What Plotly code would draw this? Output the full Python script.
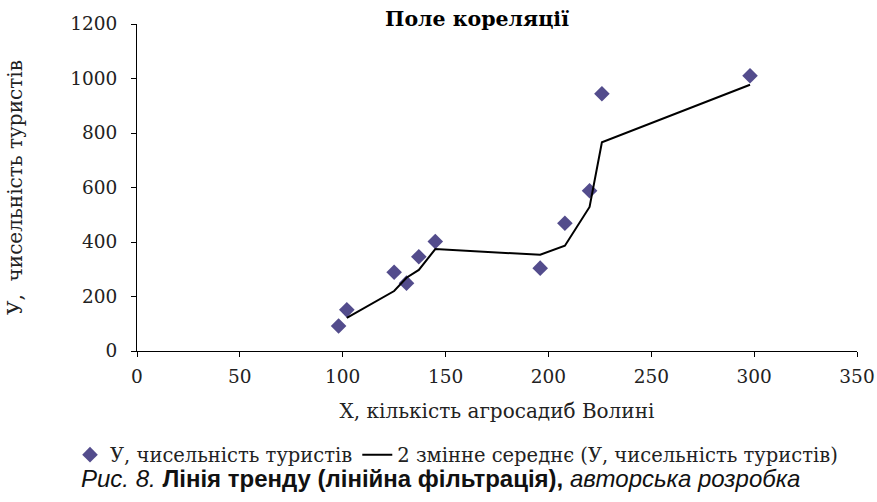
import numpy as np
import pandas as pd
import plotly.graph_objects as go

# Data
x_farms = [98, 102, 125, 131, 137, 145, 196, 208, 220, 226, 298]
y_tourists = [92, 151, 289, 249, 346, 402, 304, 469, 588, 944, 1010]

x_ticks = [0, 50, 100, 150, 200, 250, 300, 350]
y_ticks = [0, 200, 400, 600, 800, 1000, 1200]

title_text = "Поле кореляції"
x_title = "Х, кількість агросадиб Волині"
y_title = "У,  чисельність туристів"
series_name = "У, чисельність туристів"
trend_name = "2 змінне середнє (У, чисельність туристів)"
caption = "<i>Рис. 8.</i> <b>Лінія тренду (лінійна фільтрація),</b> <i>авторська розробка</i>"

# 2-period moving average trend line (as in Excel)
trend = pd.Series(y_tourists).rolling(2).mean()
trend_x = x_farms[1:]
trend_y = trend.iloc[1:].tolist()

W, H = 877, 502
ML, MR, MT, MB = 137, 20, 24, 151
PW, PH = W - ML - MR, H - MT - MB

serif = "DejaVu Serif, Liberation Serif, serif"
sans = "Liberation Sans, Arial, sans-serif"

fig = go.Figure()
fig.add_trace(go.Scatter(
    x=x_farms, y=y_tourists, mode="markers", name=series_name,
    marker=dict(symbol="diamond", size=12, color="#534C8C"),
))
fig.add_trace(go.Scatter(
    x=trend_x, y=trend_y, mode="lines", name=trend_name,
    line=dict(color="black", width=2),
))

axis_common = dict(
    showgrid=False, zeroline=False, showline=True, linecolor="black",
    linewidth=1, ticks="outside", ticklen=5, tickcolor="black",
    tickfont=dict(family=serif, size=18.5, color="#222"),
)

fig.update_layout(
    width=W, height=H,
    margin=dict(l=ML, r=MR, t=MT, b=MB, autoexpand=False),
    paper_bgcolor="white", plot_bgcolor="white",
    title=dict(text=title_text, x=477 / W, xref="container", xanchor="center",
               y=1 - 19 / H, yref="container", yanchor="middle",
               font=dict(family=serif, size=20.5, color="black", weight="bold")),
    xaxis=dict(range=[0, 350], tickvals=x_ticks, ticklabelstandoff=4,
               title=dict(text=x_title, standoff=17,
                          font=dict(family=serif, size=20, color="#222")),
               **axis_common),
    yaxis=dict(range=[0, 1200], tickvals=y_ticks, ticklabelstandoff=10,
               title=dict(text=y_title, standoff=42,
                          font=dict(family=serif, size=20, color="#222")),
               **axis_common),
    showlegend=True,
    legend=dict(orientation="h", x=-(ML - 70) / PW, xanchor="left",
                y=-(455 - MT - PH) / PH, yanchor="middle",
                font=dict(family=serif, size=19.5, color="#222"),
                itemwidth=30, tracegroupgap=0, bgcolor="rgba(0,0,0,0)"),
    annotations=[dict(text=caption, xref="paper", yref="paper",
                      x=-(ML - 79) / PW, xanchor="left",
                      y=-(478 - MT - PH) / PH, yanchor="middle",
                      showarrow=False,
                      font=dict(family=sans, size=24, color="#111"))],
)

fig.write_html("out.html")
